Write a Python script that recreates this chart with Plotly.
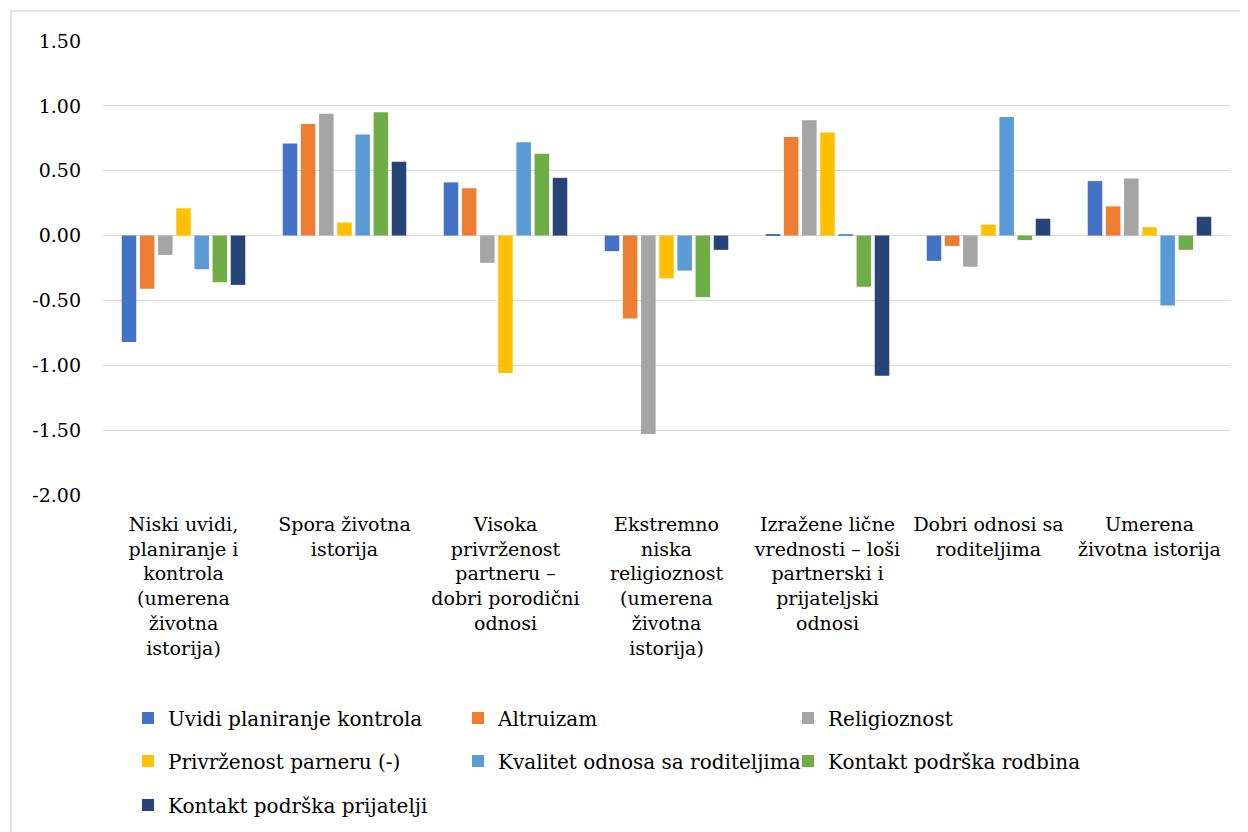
import plotly.graph_objects as go

categories = [
    "Niski uvidi,<br>planiranje i<br>kontrola<br>(umerena<br>životna<br>istorija)",
    "Spora životna<br>istorija",
    "Visoka<br>privrženost<br>partneru –<br>dobri porodični<br>odnosi",
    "Ekstremno<br>niska<br>religioznost<br>(umerena<br>životna<br>istorija)",
    "Izražene lične<br>vrednosti – loši<br>partnerski i<br>prijateljski<br>odnosi",
    "Dobri odnosi sa<br>roditeljima",
    "Umerena<br>životna istorija",
]

series_names = [
    "Uvidi planiranje kontrola",
    "Altruizam",
    "Religioznost",
    "Privrženost parneru (-)",
    "Kvalitet odnosa sa roditeljima",
    "Kontakt podrška rodbina",
    "Kontakt podrška prijatelji",
]

uvidi = [-0.82, 0.71, 0.41, -0.12, 0.01, -0.195, 0.42]
altruizam = [-0.41, 0.86, 0.365, -0.64, 0.76, -0.08, 0.225]
religioznost = [-0.15, 0.94, -0.21, -1.53, 0.89, -0.24, 0.44]
privrzenost = [0.21, 0.10, -1.06, -0.33, 0.795, 0.085, 0.065]
kvalitet = [-0.26, 0.78, 0.72, -0.27, 0.01, 0.915, -0.54]
rodbina = [-0.36, 0.95, 0.63, -0.475, -0.395, -0.035, -0.11]
prijatelji = [-0.38, 0.57, 0.445, -0.11, -1.08, 0.13, 0.145]

series_values = [uvidi, altruizam, religioznost, privrzenost, kvalitet, rodbina, prijatelji]
colors = ["#4472C4", "#ED7D31", "#A5A5A5", "#FFC000", "#5B9BD5", "#70AD47", "#264478"]
legend_ids = ["legend", "legend", "legend", "legend2", "legend2", "legend2", "legend3"]

y_ticks = [1.5, 1.0, 0.5, 0.0, -0.5, -1.0, -1.5, -2.0]
y_tick_text = ["1.50", "1.00", "0.50", "0.00", "-0.50", "-1.00", "-1.50", "-2.00"]

FONT = "DejaVu Serif"
W, H = 1240, 824   # page body has an 8px margin
OFF = 8

fig = go.Figure()
for name, vals, col, lg in zip(series_names, series_values, colors, legend_ids):
    fig.add_trace(go.Bar(
        x=categories, y=vals, name=name, legend=lg,
        marker=dict(color=col, line=dict(width=0)),
    ))

legend_common = dict(
    orientation="h", xref="container", yref="container",
    x=(128 - OFF) / W, xanchor="left", yanchor="middle",
    entrywidth=285, entrywidthmode="pixels",
    font=dict(family=FONT, size=20, color="#000000"),
    bgcolor="rgba(0,0,0,0)", borderwidth=0, itemclick=False,
)

plot_l, plot_r, plot_t, plot_b = 103 - OFF, 1230 - OFF, 41 - OFF, 495 - OFF
pw = plot_r - plot_l
ph = plot_b - plot_t

fig.update_layout(
    width=W, height=H,
    margin=dict(l=plot_l, r=W - plot_r, t=plot_t, b=H - plot_b),
    paper_bgcolor="white", plot_bgcolor="white",
    font=dict(family=FONT, size=19, color="#000000"),
    barmode="group", bargap=0.21, bargroupgap=0.2,
    showlegend=True,
    legend=dict(legend_common, y=1 - (718 - OFF) / H),
    legend2=dict(legend_common, y=1 - (761 - OFF) / H),
    legend3=dict(legend_common, y=1 - (805 - OFF) / H),
    xaxis=dict(
        type="category", showgrid=False, showline=False, ticks="",
        tickfont=dict(family=FONT, size=19, color="#000000"),
        tickangle=0, ticklabelstandoff=16,
    ),
    yaxis=dict(
        range=[-2.0, 1.5], tickvals=y_ticks, ticktext=y_tick_text,
        showgrid=True, gridcolor="#D9D9D9", gridwidth=1.3,
        zeroline=True, zerolinecolor="#D9D9D9", zerolinewidth=1.3,
        showline=False, ticks="",
        tickfont=dict(family=FONT, size=19, color="#000000"),
        ticklabelstandoff=21,
    ),
    shapes=[dict(
        type="rect", xref="paper", yref="paper",
        x0=(11 - 103) / pw, x1=(1262 - 103) / pw,
        y0=(495 - 850) / ph, y1=(495 - 11) / ph,
        line=dict(color="#D9D9D9", width=1.5), fillcolor="rgba(0,0,0,0)",
        layer="below",
    )],
)

fig.write_html("out.html")
